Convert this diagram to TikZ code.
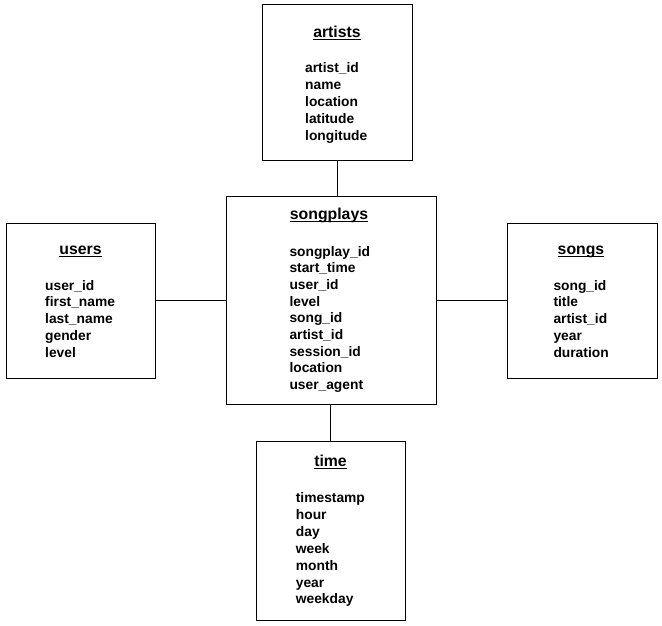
\documentclass[tikz,border=0pt]{standalone}
\usepackage{fontspec}
\setmainfont{Liberation Sans}
\begin{document}
\begin{tikzpicture}[x=1pt,y=-1pt,
  tbl/.style={draw=black,line width=1pt,inner sep=0pt,fill=white},
  ttl/.style={font=\fontsize{15.8}{18}\selectfont\bfseries,inner sep=0pt,anchor=base},
  itm/.style={font=\fontsize{13.8}{16}\selectfont\bfseries,inner sep=0pt,anchor=base west},
  link/.style={draw=black,line width=1pt},
  uline/.style={draw=black,line width=1.1pt}]
\useasboundingbox[fill=white] (0,0) rectangle (662,626);
% boxes
\node[tbl,minimum width=150pt,minimum height=155pt] (artists) at (337,82.5) {};
\node[tbl,minimum width=210pt,minimum height=208pt] (songplays) at (331,300) {};
\node[tbl,minimum width=149pt,minimum height=155pt] (users) at (80.5,300.5) {};
\node[tbl,minimum width=150pt,minimum height=155pt] (songs) at (582,300.5) {};
\node[tbl,minimum width=149pt,minimum height=179pt] (time) at (330.5,530.5) {};
% connectors
\draw[link] (artists.south) -- (artists.south |- songplays.north);
\draw[link] (users.east) -- (users.east -| songplays.west);
\draw[link] (songplays.east |- songs.west) -- (songs.west);
\draw[link] (time.north) -- (time.north |- songplays.south);
% titles
\node[ttl] (tartists) at (337,37.5) {artists};
\node[ttl] (tsongplays) at (329,219.5) {songplays};
\node[ttl] (tusers) at (80.5,254.5) {users};
\node[ttl] (tsongs) at (581,254.5) {songs};
\node[ttl] (ttime) at (330.5,466.5) {time};
\foreach \n in {tartists,tsongplays,tusers,tsongs,ttime}
  \draw[uline] ([yshift=-2.2pt]\n.base west) -- ([yshift=-2.2pt]\n.base east);
% items
\foreach \t [count=\i from 0] in {artist\_id,name,location,latitude,longitude}
  \node[itm] (ia\i) at (305,73+16.75*\i) {\t};
\foreach \t [count=\i from 0] in {songplay\_id,start\_time,user\_id,level,song\_id,artist\_id,session\_id,location,user\_agent}
  \node[itm] (ip\i) at (289.3,256+16.7*\i) {\t};
\foreach \t [count=\i from 0] in {user\_id,first\_name,last\_name,gender,level}
  \node[itm] (iu\i) at (45,290+16.75*\i) {\t};
\foreach \t [count=\i from 0] in {song\_id,title,artist\_id,year,duration}
  \node[itm] (is\i) at (553.3,290+16.75*\i) {\t};
\foreach \t [count=\i from 0] in {timestamp,hour,day,week,month,year,weekday}
  \node[itm] (it\i) at (295.7,502.5+16.9*\i) {\t};
\end{tikzpicture}
\end{document}
